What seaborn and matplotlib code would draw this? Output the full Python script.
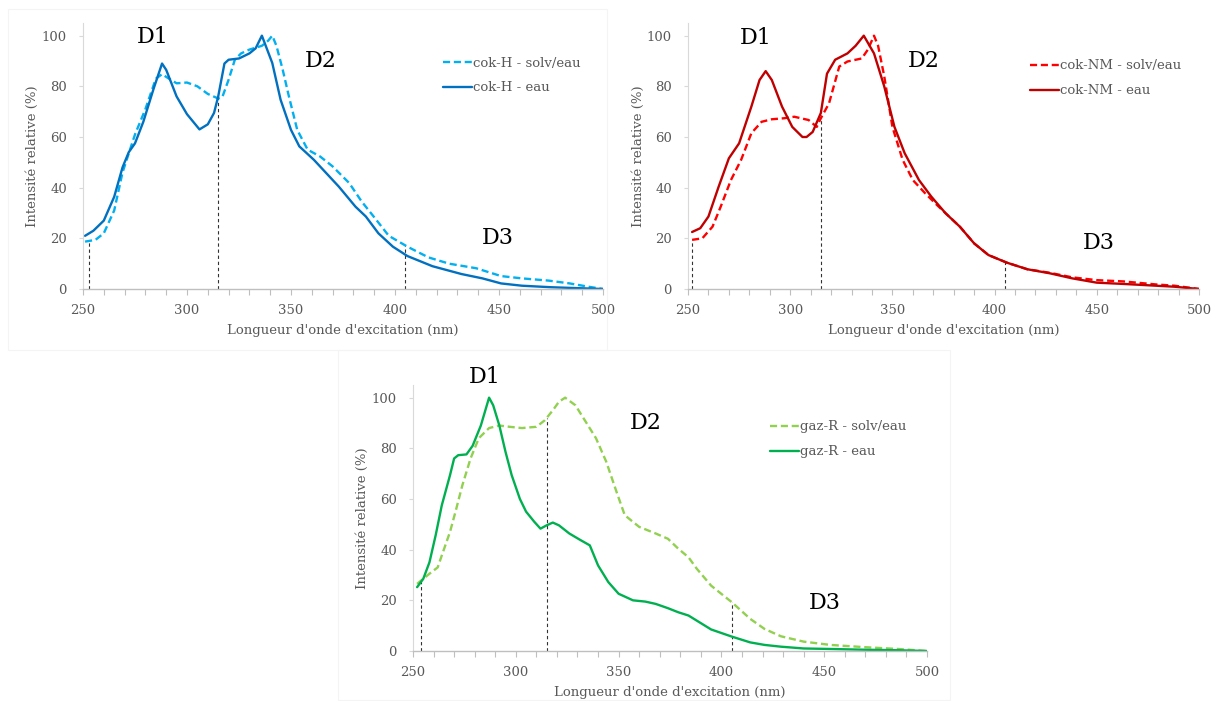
import numpy as np
import pandas as pd
import matplotlib
matplotlib.use("Agg")
import matplotlib.pyplot as plt
from matplotlib.ticker import MultipleLocator
from matplotlib.patches import Rectangle
import seaborn as sns

# ---------------- data ----------------
# Panel 1 : cok-H
cokH_solv_nm = [251, 256, 260, 265, 269, 275, 280, 285, 288, 291, 295, 300, 305, 310, 315, 317, 320, 323,
                326, 330, 336, 339, 341, 343, 346, 349, 353, 358, 364, 370, 378, 384, 391, 397, 406, 416,
                426, 439, 451, 461, 474, 484, 493, 500]
cokH_solv_val = [18.7, 19.4, 22, 31, 46, 61, 71, 83, 84.8, 83.2, 81.2, 81.5, 80, 77, 75.2, 75.8, 82.6, 90.5,
                 93, 94.5, 96, 98, 100, 96, 86.6, 76, 62.8, 55, 52.3, 48.4, 41.8, 34.5, 27.3, 21, 16.7, 12.5,
                 10, 8.2, 5.1, 4.2, 3.3, 2.2, 0.9, 0]
cokH_eau_nm = [251, 255, 260, 265, 269, 272, 275, 279, 284, 288, 290, 295, 300, 305, 306, 310, 313, 315, 318,
               320, 325, 330, 333, 336, 341, 345, 350, 354, 361, 367, 373, 381, 386, 392, 399, 406, 418,
               432, 442, 451, 461, 475, 500]
cokH_eau_val = [21, 23, 27, 36.4, 48, 54, 57.5, 66, 79.2, 89, 86.5, 76, 69, 64, 63, 65, 69.5, 76, 89,
                90.5, 91, 93, 95, 100, 89.2, 74.7, 62.8, 56.3, 51, 45.7, 40.4, 32.5, 28.6, 22, 16.7, 13, 9,
                5.9, 4.2, 2.2, 1.3, 0.7, 0]

# Panel 2 : cok-NM
cokNM_solv_nm = [252, 257, 262, 266, 271, 276, 281, 286, 291, 297, 302, 309, 313, 315, 319, 324, 328, 335,
                 338, 341, 343, 346, 350, 355, 360, 366, 372, 383, 390, 397, 406, 416, 427, 438, 450, 463,
                 479, 488, 500]
cokNM_solv_val = [19.4, 20, 24.6, 32.5, 43, 51, 61.5, 66, 67, 67.4, 68, 66.7, 64, 67.4, 73.3, 87.8, 89.8, 91,
                  94.5, 100, 96, 84, 64, 51, 43, 37.8, 33, 24.6, 18, 13.4, 10.4, 7.8, 6.4, 4.6, 3.5, 3,
                  1.8, 1.3, 0]
cokNM_eau_nm = [252, 256, 260, 265, 270, 275, 281, 285, 288, 291, 296, 301, 306, 308, 311, 315, 318, 322,
                328, 332, 336, 341, 346, 351, 356, 363, 369, 376, 383, 390, 397, 406, 416, 427, 438, 450,
                463, 479, 488, 500]
cokNM_eau_val = [22.5, 24, 28.6, 40.4, 51.6, 57.5, 72, 82.5, 86, 82.5, 72, 64, 60, 60, 62, 69.5, 85, 90.5,
                 93, 96, 100, 93, 80, 64, 53.6, 43, 36.5, 29.9, 24.6, 18, 13.4, 10.4, 7.8, 6.2, 4.2, 2.5,
                 2, 1.3, 0.9, 0]

# Panel 3 : gaz-R
gazR_solv_nm = [252, 255, 258, 262, 264, 268, 271, 274, 278, 282, 287, 292, 297, 303, 310, 314, 318, 321,
                324, 329, 334, 339, 344, 349, 353, 360, 368, 374, 379, 384, 388, 395, 405, 414, 421, 429,
                440, 453, 470, 486, 500]
gazR_solv_val = [26.5, 28.5, 30.5, 33, 37.7, 47, 56, 65.4, 76, 84, 88, 89, 88.5, 88, 88.5, 91, 95, 98.4,
                 100, 97, 90.5, 84, 74.7, 62.8, 53.6, 49, 46.4, 44.3, 40.4, 37, 32.5, 25.8, 19.3, 12.7, 8.7, 5.8,
                 3.7, 2.4, 1.5, 0.8, 0]
gazR_eau_nm = [252, 255, 258, 261, 264, 268, 270, 272, 276, 279, 283, 287, 289, 292, 295, 298, 302, 305,
               309, 312, 315, 318, 321, 326, 331, 336, 340, 345, 350, 357, 363, 368, 374, 379, 384, 388,
               395, 405, 414, 421, 429, 440, 453, 470, 486, 500]
gazR_eau_val = [25.2, 28.5, 35, 45.6, 57.5, 69.4, 76, 77.3, 77.6, 81, 89, 100, 97, 89, 78.6, 69.4, 60, 55,
                51, 48.3, 49.6, 50.7, 49.6, 46.4, 44, 41.7, 33.8, 27.2, 22.6, 20, 19.5, 18.6, 16.9, 15.3, 14, 12,
                8.5, 5.7, 3.4, 2.4, 1.7, 1, 0.8, 0.5, 0.3, 0]

panel_labels = [("cok-H - solv/eau", "cok-H - eau"),
                ("cok-NM - solv/eau", "cok-NM - eau"),
                ("gaz-R - solv/eau", "gaz-R - eau")]
domain_names = ["D1", "D2", "D3"]
domain_limits = [[253, 315, 405], [252, 315, 405], [254, 315, 405]]
x_ticks = [250, 300, 350, 400, 450, 500]
y_ticks = [0, 20, 40, 60, 80, 100]
x_title = "Longueur d'onde d'excitation (nm)"
y_title = "Intensité relative (%)"

# ---------------- style ----------------
sns.set_theme(style="white")
plt.rcParams["font.family"] = ["DejaVu Serif"]
GREY = "#595959"

fig = plt.figure(figsize=(12.15, 7.01), dpi=100)
fig.patch.set_facecolor("white")

# very faint frames of the pasted chart images
W, Hpx = 1215, 701
for (x0, y0, x1, y1) in [(8, 9, 607, 350), (338, 350, 950, 700)]:
    fig.patches.append(Rectangle((x0 / W, 1 - y1 / Hpx), (x1 - x0) / W, (y1 - y0) / Hpx,
                                 transform=fig.transFigure, fill=False,
                                 edgecolor="#F4F4F4", linewidth=0.8, zorder=0))

H = 266 / 701
axes = [fig.add_axes([83 / 1215, 1 - 289 / 701, 520 / 1215, H]),
        fig.add_axes([688 / 1215, 1 - 289 / 701, 511 / 1215, H]),
        fig.add_axes([413 / 1215, 1 - 651 / 701, 514 / 1215, H])]

panels = [
    (cokH_solv_nm, cokH_solv_val, cokH_eau_nm, cokH_eau_val, "#00B0F0", "#0070C0"),
    (cokNM_solv_nm, cokNM_solv_val, cokNM_eau_nm, cokNM_eau_val, "#FF0000", "#C00000"),
    (gazR_solv_nm, gazR_solv_val, gazR_eau_nm, gazR_eau_val, "#92D050", "#00B050"),
]
d_positions = [
    [(283.7, 99.6), (364.4, 90), (449.5, 20)],
    [(283, 99), (365.5, 90), (451, 18.2)],
    [(285, 108.3), (363.3, 90), (450.4, 19)],
]
legend_anchor = [(0.692, 0.874), (0.669, 0.863), (0.695, 0.867)]

for i, ax in enumerate(axes):
    sn, sv, en, ev, c_solv, c_eau = panels[i]
    lab_s, lab_e = panel_labels[i]
    df = pd.concat([
        pd.DataFrame({"nm": sn, "val": sv, "serie": lab_s}),
        pd.DataFrame({"nm": en, "val": ev, "serie": lab_e}),
    ], ignore_index=True)
    sns.lineplot(data=df, x="nm", y="val", hue="serie", style="serie",
                 hue_order=[lab_s, lab_e], style_order=[lab_s, lab_e],
                 palette={lab_s: c_solv, lab_e: c_eau},
                 dashes={lab_s: (3, 1.6), lab_e: ""},
                 estimator=None, sort=False, linewidth=1.7, ax=ax, legend=False)
    for ln in ax.get_lines():
        ln.set_solid_joinstyle("round")
        ln.set_dash_joinstyle("round")

    # domain separators: from 0 up to the solv/eau curve
    xs = np.array(domain_limits[i], dtype=float)
    tops = np.interp(xs, sn, sv)
    ax.vlines(xs, 0, tops, colors="#333333", linewidth=0.8,
              linestyles=(0, (3, 2.5)), zorder=1)

    for name, (dx, dy) in zip(domain_names, d_positions[i]):
        ax.text(dx, dy, name, ha="center", va="center", fontsize=16,
                color="black", clip_on=False)

    handles = ax.get_lines()[:2]
    ax.legend(handles, [lab_s, lab_e], loc="upper left",
              bbox_to_anchor=legend_anchor[i], frameon=False, borderpad=0,
              borderaxespad=0, handlelength=2.2, handletextpad=0.05,
              labelspacing=0.89, fontsize=9.5, labelcolor=GREY)

    ax.set_xlim(250, 500)
    ax.set_ylim(0, 105)
    ax.set_xticks(x_ticks)
    ax.set_yticks(y_ticks)
    ax.xaxis.set_minor_locator(MultipleLocator(10))
    ax.tick_params(axis="x", which="both", direction="out", length=4, width=0.8,
                   color="#BFBFBF", labelcolor=GREY, labelsize=9.5, pad=6.5,
                   bottom=True)
    ax.tick_params(axis="y", direction="out", length=3, width=0.8,
                   color="#D9D9D9", labelcolor=GREY, labelsize=9.5, pad=8.6,
                   left=True)
    ax.set_xlabel(x_title, fontsize=9.5, color=GREY)
    ax.set_ylabel(y_title, fontsize=9.5, color=GREY)
    ax.xaxis.set_label_coords(0.5, -0.13)
    ax.yaxis.set_label_coords(-0.085, 0.5)
    ax.xaxis.label.set_va("top")
    for s in ["top", "right"]:
        ax.spines[s].set_visible(False)
    ax.spines["bottom"].set_color("#BFBFBF")
    ax.spines["bottom"].set_linewidth(1.0)
    ax.spines["left"].set_color("#D9D9D9")
    ax.spines["left"].set_linewidth(0.8)
    ax.set_facecolor("none")

fig.savefig("out.png", dpi=100, facecolor="white")
